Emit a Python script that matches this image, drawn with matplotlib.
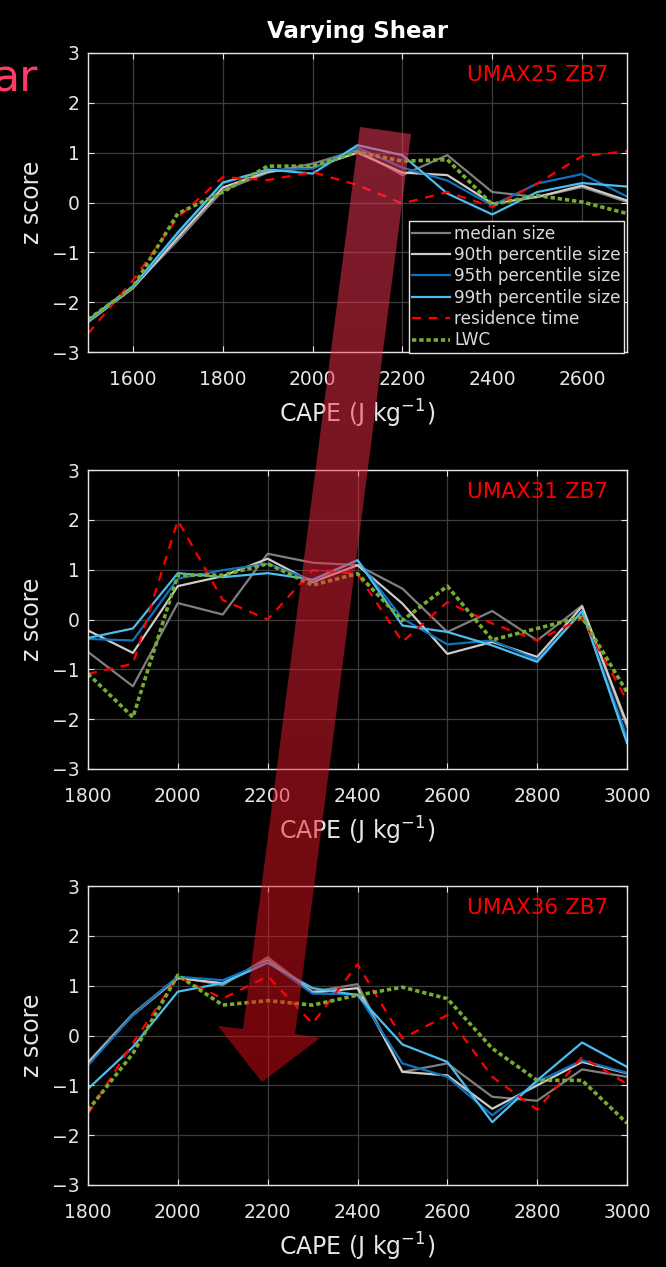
import matplotlib
matplotlib.use("Agg")
import matplotlib.pyplot as plt
import numpy as np
from matplotlib.patches import Polygon

plt.rcParams['font.family'] = ['DejaVu Sans']

# CAPE values (J kg-1) for each run
cape_25 = [1500, 1600, 1700, 1800, 1900, 2000, 2100, 2200, 2300, 2400, 2500, 2600, 2700]
cape_31 = [1800, 1900, 2000, 2100, 2200, 2300, 2400, 2500, 2600, 2700, 2800, 2900, 3000]
cape_36 = [1800, 1900, 2000, 2100, 2200, 2300, 2400, 2500, 2600, 2700, 2800, 2900, 3000]

# UMAX25 ZB7 z scores
med_25 = [-2.38, -1.7, -0.76, 0.24, 0.6, 0.78, 1.05, 0.55, 0.95, 0.21, 0.11, 0.31, 0.01]
p90_25 = [-2.4, -1.72, -0.7, 0.3, 0.62, 0.7, 1.0, 0.6, 0.55, -0.02, 0.11, 0.34, 0.04]
p95_25 = [-2.38, -1.7, -0.62, 0.39, 0.65, 0.68, 1.1, 0.7, 0.44, -0.06, 0.38, 0.57, 0.12]
p99_25 = [-2.36, -1.68, -0.6, 0.4, 0.66, 0.58, 1.15, 0.95, 0.18, -0.24, 0.21, 0.39, 0.32]
res_25 = [-2.63, -1.56, -0.3, 0.51, 0.45, 0.61, 0.35, -0.02, 0.21, -0.09, 0.38, 0.93, 1.03]
lwc_25 = [-2.35, -1.7, -0.22, 0.21, 0.73, 0.73, 1.01, 0.83, 0.86, -0.04, 0.14, 0.01, -0.22]

# UMAX31 ZB7 z scores
med_31 = [-0.65, -1.34, 0.33, 0.1, 1.32, 1.14, 1.09, 0.62, -0.25, 0.17, -0.42, 0.28, -2.16]
p90_31 = [-0.22, -0.67, 0.67, 0.87, 1.22, 0.75, 1.09, 0.32, -0.69, -0.45, -0.75, 0.26, -2.09]
p95_31 = [-0.39, -0.42, 0.82, 0.99, 1.12, 0.78, 1.19, 0.02, -0.5, -0.42, -0.81, 0.15, -2.36]
p99_31 = [-0.37, -0.18, 0.93, 0.85, 0.93, 0.8, 1.19, -0.12, -0.25, -0.52, -0.85, 0.17, -2.48]
res_31 = [-1.09, -0.89, 1.99, 0.39, 0.0, 0.99, 0.92, -0.45, 0.35, -0.08, -0.42, 0.02, -1.63]
lwc_31 = [-1.09, -1.96, 0.89, 0.89, 1.12, 0.69, 0.92, -0.02, 0.67, -0.41, -0.18, 0.05, -1.46]

# UMAX36 ZB7 z scores
med_36 = [-0.53, 0.44, 1.18, 1.01, 1.57, 0.88, 1.03, -0.73, -0.56, -1.23, -1.31, -0.68, -0.83]
p90_36 = [-0.56, 0.41, 1.15, 1.05, 1.51, 0.86, 0.95, -0.73, -0.8, -1.47, -1.0, -0.53, -0.76]
p95_36 = [-0.6, 0.41, 1.18, 1.11, 1.48, 0.84, 0.83, -0.56, -0.83, -1.6, -0.93, -0.5, -0.75]
p99_36 = [-1.07, -0.23, 0.88, 1.05, 1.46, 0.95, 0.81, -0.18, -0.53, -1.74, -0.9, -0.14, -0.63]
res_36 = [-1.57, -0.15, 1.18, 0.74, 1.19, 0.24, 1.43, -0.06, 0.41, -0.83, -1.49, -0.43, -0.97]
lwc_36 = [-1.5, -0.36, 1.21, 0.61, 0.7, 0.61, 0.81, 0.97, 0.74, -0.26, -0.9, -0.9, -1.76]

panels = [
    ("UMAX25 ZB7", cape_25, [med_25, p90_25, p95_25, p99_25, res_25, lwc_25], (1500, 2700), [1600, 1800, 2000, 2200, 2400, 2600]),
    ("UMAX31 ZB7", cape_31, [med_31, p90_31, p95_31, p99_31, res_31, lwc_31], (1800, 3000), [1800, 2000, 2200, 2400, 2600, 2800, 3000]),
    ("UMAX36 ZB7", cape_36, [med_36, p90_36, p95_36, p99_36, res_36, lwc_36], (1800, 3000), [1800, 2000, 2200, 2400, 2600, 2800, 3000]),
]

labels = ["median size", "90th percentile size", "95th percentile size",
          "99th percentile size", "residence time", "LWC"]
colors = ["#7f7f7f", "#cfcbc6", "#0f72bd", "#4dbdee", "#ff0000", "#77ac30"]
styles = [dict(ls="-", lw=1.6), dict(ls="-", lw=1.6), dict(ls="-", lw=1.6),
          dict(ls="-", lw=1.6), dict(ls=(0, (4, 3.5)), lw=1.6), dict(ls=(0, (1.2, 0.8)), lw=2.6)]

W, H = 666, 1267
fig = plt.figure(figsize=(W / 100, H / 100), dpi=100, facecolor="black")

tops = [53, 470, 886]
fg = "#e6e6e6"
for (name, cape, series, xl, xt), top in zip(panels, tops):
    ax = fig.add_axes([88 / W, 1 - (top + 299) / H, 539 / W, 299 / H])
    ax.set_facecolor("black")
    for y, lab, c, st in zip(series, labels, colors, styles):
        ax.plot(cape, y, color=c, label=lab, **st)
    ax.set_xlim(*xl)
    ax.set_ylim(-3, 3)
    ax.set_xticks(xt)
    ax.set_yticks(range(-3, 4))
    ax.set_yticklabels(["\u22123", "\u22122", "\u22121", "0", "1", "2", "3"])
    ax.grid(True, color="#3c3c3c", lw=0.9)
    ax.set_axisbelow(True)
    for s in ax.spines.values():
        s.set_color(fg)
        s.set_linewidth(1.0)
    ax.tick_params(colors=fg, labelcolor=fg, labelsize=13.5, direction="in",
                   top=True, right=True, length=4)
    ax.tick_params(axis="x", pad=13)
    ax.tick_params(axis="y", pad=6)
    ax.set_ylabel("z score", color=fg, fontsize=17, labelpad=6)
    ax.set_xlabel("CAPE (J kg$^{-1}$)", color=fg, fontsize=17, labelpad=6)
    ax.text(0.965, 0.925, name, transform=ax.transAxes, color="#ff0000",
            fontsize=15.5, ha="right", va="center")
    if top == 53:
        ax.set_title("Varying Shear", color="white", fontsize=16.5,
                     fontweight="bold", pad=11)
        leg = ax.legend(loc="lower right", prop={"size": 12.2}, frameon=True,
                        facecolor="black", edgecolor=fg, handlelength=2.2,
                        handletextpad=0.25, borderpad=0.22, labelspacing=0.2,
                        bbox_to_anchor=(0.995, -0.004), borderaxespad=0,
                        fancybox=False, framealpha=1)
        leg.get_frame().set_linewidth(1.0)
        for t in leg.get_texts():
            t.set_color("#d9d9d9")

# overlay for the big arrow and the cut-off heading text
ov = fig.add_axes([0, 0, 1, 1])
ov.set_xlim(0, W)
ov.set_ylim(H, 0)
ov.axis("off")
ov.patch.set_alpha(0)

arrow = [(360, 127), (411, 134), (295, 1034), (320, 1038), (262, 1082),
         (218, 1026), (243, 1029)]
poly = Polygon(arrow, closed=True, facecolor="none", edgecolor="none")
ov.add_patch(poly)
grad = np.linspace(0, 1, 256)[:, None]
top_c = np.array([255, 62, 95]) / 255
bot_c = np.array([225, 10, 20]) / 255
img = top_c[None, None, :] * (1 - grad[:, :, None]) + bot_c[None, None, :] * grad[:, :, None]
im = ov.imshow(img, extent=(200, 430, 1090, 120), aspect="auto", alpha=0.5,
               interpolation="bilinear", zorder=5)
im.set_clip_path(poly)

ov.text(38, 91, "ar", color="#ff3a64", fontsize=32, ha="right", va="baseline")

fig.savefig("out.png", dpi=100, facecolor="black")
